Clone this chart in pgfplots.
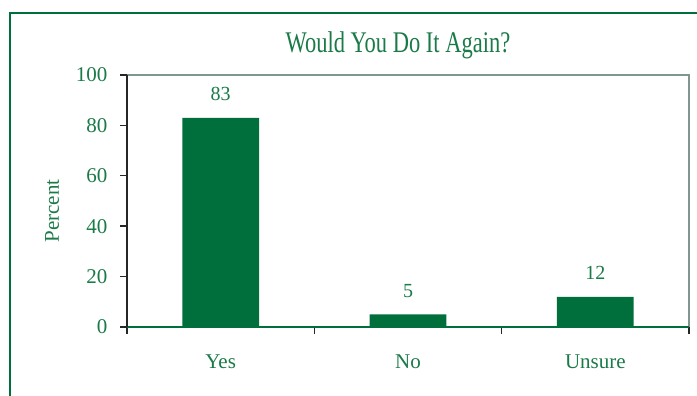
\documentclass[border=0pt]{standalone}
\usepackage{pgfplots}
\pgfplotsset{compat=1.18}
\usepackage{fontspec}
\setmainfont{Liberation Serif}
\newfontfamily\titlefont{Liberation Serif}[FakeStretch=0.75]
\definecolor{bargreen}{RGB}{0,111,59}
\definecolor{txtgreen}{RGB}{26,122,72}
\definecolor{framegray}{RGB}{130,150,145}
\begin{document}
\begin{tikzpicture}[x=1pt,y=1pt]
\useasboundingbox (0,0) rectangle (697,396);
\draw[bargreen, line width=2pt] (10,0) -- (10,383) -- (697,383);
\begin{axis}[
  at={(127pt,69pt)}, anchor=south west, scale only axis,
  width=562pt, height=252pt,
  clip=false,
  xmin=-0.5, xmax=2.5, ymin=0, ymax=100,
  axis line style={draw=none},
  tick align=outside, tick pos=left,
  major tick length=7pt,
  tick style={black!85, line width=1.4pt},
  ytick={0,20,...,100},
  xtick={-0.5,0.5,1.5,2.5}, xticklabels={},
  extra x ticks={0,1,2}, extra x tick labels={Yes,No,Unsure},
  extra x tick style={major tick length=0pt},
  /pgf/number format/assume math mode=true,
  ticklabel style={font=\fontsize{21}{21}\selectfont, text=txtgreen},
  xticklabel style={yshift=-24pt},
  yticklabel style={xshift=-9pt},
  ylabel={Percent},
  every axis y label/.style={at={(rel axis cs:0,0.46)}, xshift=-75pt, rotate=90, anchor=center, font=\fontsize{21}{21}\selectfont, text=txtgreen},
  title={\titlefont Would You Do It Again?},
  every axis title/.style={at={(rel axis cs:0.5,1)}, anchor=base, yshift=22pt, xshift=-10pt, font=\fontsize{30}{30}\selectfont, text=txtgreen},
]
\addplot[ybar, bar width=0.41, fill=bargreen, draw=none,
  nodes near coords,
  every node near coord/.append style={anchor=base, yshift=17pt, font=\fontsize{20}{20}\selectfont, text=txtgreen}]
  coordinates {(0,83) (1,5) (2,12)};
\draw[framegray, line width=1.5pt] (rel axis cs:0,1) -- (rel axis cs:1,1) -- (rel axis cs:1,0);
\draw[bargreen, line width=1.5pt] (rel axis cs:0,0) -- (rel axis cs:1,0);
\draw[black!85, line width=1.5pt] (rel axis cs:0,0) -- (rel axis cs:0,1);
\end{axis}
\end{tikzpicture}
\end{document}
